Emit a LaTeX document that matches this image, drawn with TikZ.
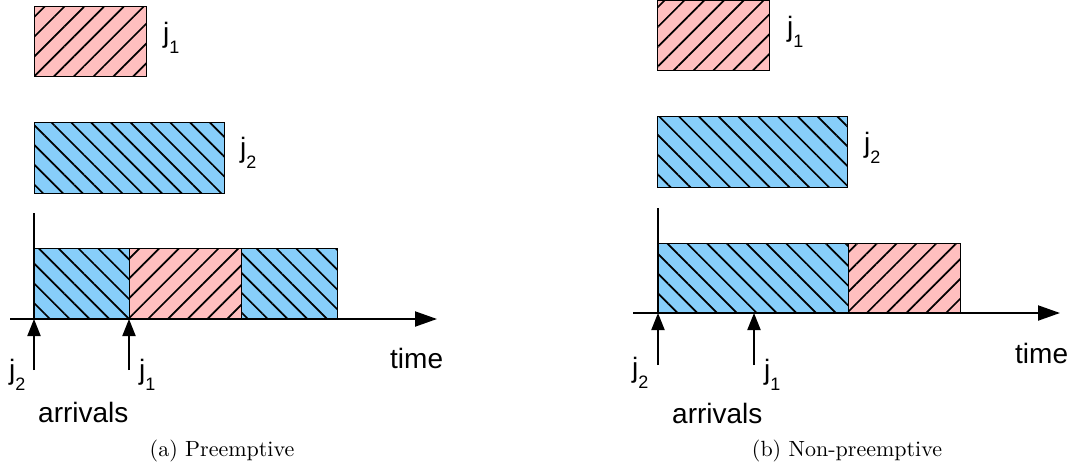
\documentclass[tikz,border=0pt]{standalone}
\usepackage{fontspec}
\setsansfont{Liberation Sans}
\usetikzlibrary{arrows.meta,patterns.meta}
\definecolor{jobpink}{RGB}{255,191,191}
\definecolor{jobblue}{RGB}{135,206,250}
% job label: letter j with a lowered index
\newcommand\joblabel[1]{j\raisebox{-11.5pt}{\fontsize{18}{18}\selectfont #1}}
\tikzset{
  job/.style={draw=black, line width=0.9pt, inner sep=0pt, outer sep=0pt, anchor=north west},
  pinkjob/.style={job, preaction={fill=jobpink},
    pattern={Lines[angle=45,distance=14pt,line width=1.7pt]}},
  bluejob/.style={job, preaction={fill=jobblue},
    pattern={Lines[angle=-45,distance=14pt,line width=1.7pt]}},
  lbl/.style={font=\sffamily\fontsize{28}{30}\selectfont, inner sep=0pt, anchor=base west},
  captext/.style={inner sep=0pt, anchor=base},
  axis/.style={line width=2pt},
  timeaxis/.style={line width=2pt, -{Triangle[length=22pt,width=15pt]}},
  arrival/.style={line width=2pt, -{Triangle[length=17pt,width=13pt]}},
}
\begin{document}
\begin{tikzpicture}[x=1pt,y=-1pt]
\useasboundingbox (0,0) rectangle (1072,467);

% ---------------- (a) preemptive ----------------
\node[pinkjob, minimum width=112pt, minimum height=70pt] (aj1) at (34,6) {};
\node[bluejob, minimum width=190pt, minimum height=71pt] (aj2) at (34,122) {};
\node[lbl] (aj1l) at (163,42) {\joblabel{1}};
\node[lbl] (aj2l) at (240,157) {\joblabel{2}};

\node[bluejob, minimum width=95pt, minimum height=71pt] (as1) at (34,248) {};
\node[pinkjob, minimum width=112pt, minimum height=71pt] (as2) at (129,248) {};
\node[bluejob, minimum width=96pt, minimum height=71pt] (as3) at (241,248) {};

\coordinate (ayt) at (34,213);
\coordinate (ax0) at (10,319);
\coordinate (ax1) at (437,319);
\coordinate (aa2) at (34,370);
\coordinate (aa1) at (129,370);
\draw[axis] (ayt) -- (as1.south west);
\draw[timeaxis] (ax0) -- (ax1);
\draw[arrival] (aa2) -- (as1.south west);
\draw[arrival] (aa1) -- (as2.south west);

\node[lbl] (aa2l) at (9,379) {\joblabel{2}};
\node[lbl] (aa1l) at (139,379) {\joblabel{1}};
\node[lbl] (atime) at (390,368) {time};
\node[lbl] (aarr) at (38,422) {arrivals};
\node[captext] (acap) at (222,456) {\scalebox{2.2}{\fontsize{10}{12}\selectfont (a) Preemptive}};

% ---------------- (b) non-preemptive ----------------
\node[pinkjob, minimum width=112pt, minimum height=70pt] (bj1) at (657,0) {};
\node[bluejob, minimum width=190pt, minimum height=71pt] (bj2) at (657,116) {};
\node[lbl] (bj1l) at (787,36) {\joblabel{1}};
\node[lbl] (bj2l) at (864,152) {\joblabel{2}};

\node[bluejob, minimum width=190pt, minimum height=70pt] (bs1) at (658,243) {};
\node[pinkjob, minimum width=112pt, minimum height=70pt] (bs2) at (848,243) {};

\coordinate (byt) at (658,208);
\coordinate (bx0) at (633,313);
\coordinate (bx1) at (1060,313);
\coordinate (ba2) at (658,365);
\coordinate (ba1) at (754,365);
\coordinate (bt1) at (754,313);
\draw[axis] (byt) -- (bs1.south west);
\draw[timeaxis] (bx0) -- (bx1);
\draw[arrival] (ba2) -- (bs1.south west);
\draw[arrival] (ba1) -- (bt1);

\node[lbl] (ba2l) at (632,377) {\joblabel{2}};
\node[lbl] (ba1l) at (764,379) {\joblabel{1}};
\node[lbl] (btime) at (1015,363) {time};
\node[lbl] (barr) at (672,423) {arrivals};
\node[captext] (bcap) at (847,456) {\scalebox{2.2}{\fontsize{10}{12}\selectfont (b) Non-preemptive}};
\end{tikzpicture}
\end{document}
